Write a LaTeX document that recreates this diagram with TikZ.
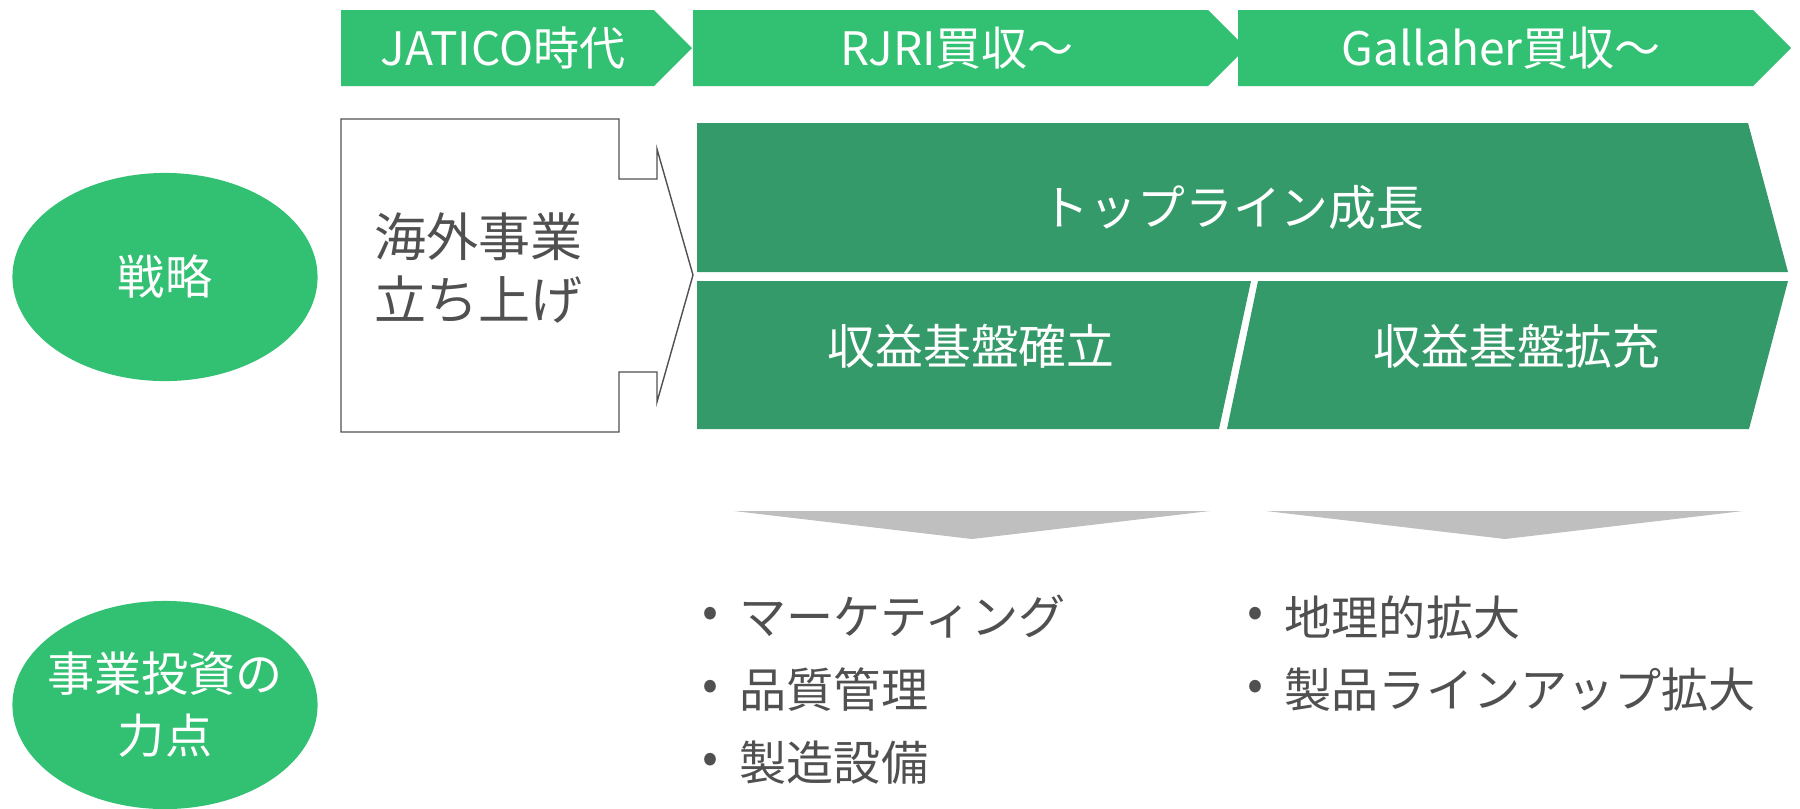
\documentclass[tikz,border=0pt]{standalone}
\usepackage{fontspec}
\setmainfont{Noto Sans CJK JP}
\usetikzlibrary{shapes.geometric}

\definecolor{phasegreen}{HTML}{32C072}
\definecolor{bandgreen}{HTML}{359A6A}
\definecolor{textgray}{HTML}{505050}
\definecolor{pointgray}{HTML}{BFBFBF}

\tikzset{
    phase/.style={fill=phasegreen},
    phasetext/.style={text=white, inner sep=0pt, font=\fontsize{13.1}{15}\selectfont},
    band/.style={fill=bandgreen},
    bandtext/.style={text=white, inner sep=0pt, font=\fontsize{13.6}{16}\selectfont},
    rowlabel/.style={ellipse, fill=phasegreen, text=white, inner ysep=0pt, inner xsep=-0.2cm,
        minimum width=3.05cm, minimum height=2.08cm, align=center,
        font=\fontsize{13.4}{17.6}\selectfont},
    bullettext/.style={text=textgray, inner sep=0pt, anchor=west, font=\fontsize{13.4}{16}\selectfont}
}

\begin{document}
\begin{tikzpicture}[x=0.01cm, y=-0.01cm]
    \useasboundingbox (0,0) rectangle (1800,808);

    % Draw the phase arrows along the top
    \fill[phase] (341,10) -- (654,10) -- (692,48) -- (654,86) -- (341,86) -- cycle;
    \fill[phase] (693,10) -- (1208,10) -- (1246,48) -- (1208,86) -- (693,86) -- cycle;
    \fill[phase] (1238,10) -- (1753,10) -- (1791,48) -- (1753,86) -- (1238,86) -- cycle;
    \node[phasetext] (jatico) at (503,48) {JATICO時代};
    \node[phasetext] (rjri) at (957,48) {RJRI買収～};
    \node[phasetext] (gallaher) at (1501,48) {Gallaher買収～};

    % Draw the outlined box with its arrow
    \draw[textgray, line width=0.4pt] (341,119) -- (619,119) -- (619,179) -- (657,179)
        -- (657,149) -- (693,275) -- (657,402) -- (657,372) -- (619,372)
        -- (619,432) -- (341,432) -- cycle;
    \node[text=textgray, anchor=west, align=left, inner sep=0pt,
        font=\fontsize{14.8}{17.9}\selectfont] (launch) at (374,268) {海外事業\\立ち上げ};

    % Draw the green bands
    \fill[band] (697,123) -- (1748,123) -- (1788,272) -- (697,272) -- cycle;
    \fill[band] (697,281) -- (1251,281) -- (1219,429) -- (697,429) -- cycle;
    \fill[band] (1258,281) -- (1788,281) -- (1749,429) -- (1227,429) -- cycle;
    \node[bandtext] (topline) at (1233,208) {トップライン成長};
    \node[bandtext] (establish) at (971,346) {収益基盤確立};
    \node[bandtext] (expand) at (1517,346) {収益基盤拡充};

    % Add the row labels
    \node[rowlabel] (strategy) at (165,277) {戦略};
    \node[rowlabel] (focus) at (165,705) {事業投資の\\力点};

    % Draw the grey pointers
    \fill[pointgray] (734,511) -- (1210,511) -- (972,539) -- cycle;
    \fill[pointgray] (1266,511) -- (1743,511) -- (1505,539) -- cycle;

    % Add the bullet lists
    \node[bullettext] (dot1) at (702,617) {•};
    \node[bullettext] (marketing) at (739,617) {マーケティング};
    \node[bullettext] (dot2) at (702,690) {•};
    \node[bullettext] (quality) at (739,690) {品質管理};
    \node[bullettext] (dot3) at (702,763) {•};
    \node[bullettext] (plant) at (739,763) {製造設備};
    \node[bullettext] (dot4) at (1247,617) {•};
    \node[bullettext] (geo) at (1284,617) {地理的拡大};
    \node[bullettext] (dot5) at (1247,690) {•};
    \node[bullettext] (lineup) at (1284,690) {製品ラインアップ拡大};

\end{tikzpicture}
\end{document}
